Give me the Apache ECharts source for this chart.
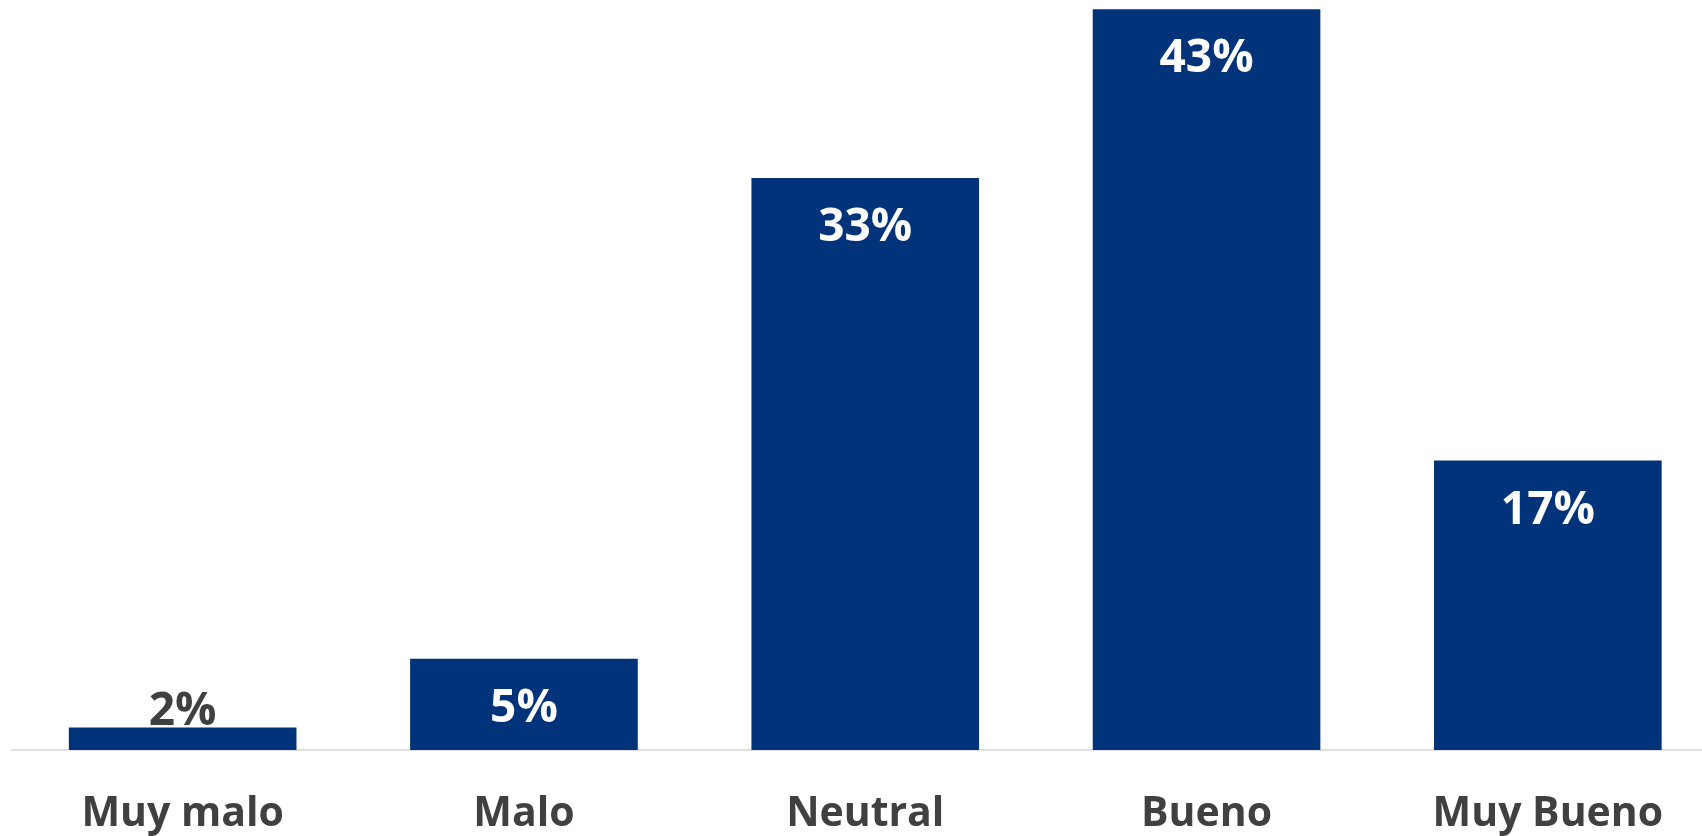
<!DOCTYPE html>
<html>
<head>
<meta charset="utf-8">
<script src="https://cdn.jsdelivr.net/npm/echarts@6/dist/echarts.min.js"></script>
<style>
html,body{margin:0;padding:0;background:#ffffff;}
#chart{width:1702px;height:836px;}
</style>
</head>
<body>
<div id="chart"></div>
<script>
// Data
var categories = ["Muy malo", "Malo", "Neutral", "Bueno", "Muy Bueno"];
var values = [1.3, 5.3, 33.2, 43.0, 16.8];          // bar heights (percent)
var valueLabels = ["2%", "5%", "33%", "43%", "17%"]; // labels as printed

var BAR_COLOR = "#00337A";
var FONT = "Open Sans";

var seriesData = values.map(function (v, i) {
  var item = { value: v };
  if (v < 3) {
    // bar too short: label sits just above it, in dark grey
    item.label = { position: "top", distance: -7, color: "#404040" };
  }
  return item;
});

var chart = echarts.init(document.getElementById("chart"), null, { renderer: "canvas" });
chart.setOption({
  backgroundColor: "#ffffff",
  animation: false,
  grid: {
    left: 12, top: 9.3, width: 1706.5, bottom: 86,
    containLabel: false,
    outerBoundsMode: "none"
  },
  xAxis: {
    type: "category",
    data: categories,
    axisLine: { show: true, lineStyle: { color: "#e0e0e0", width: 2 } },
    axisTick: { show: false },
    axisLabel: {
      color: "#404040",
      fontFamily: FONT,
      fontWeight: "bold",
      fontSize: 41,
      margin: 44,
      interval: 0
    }
  },
  yAxis: {
    type: "value",
    min: 0,
    max: 43,
    show: false,
    splitLine: { show: false }
  },
  series: [{
    type: "bar",
    data: seriesData,
    barCategoryGap: "33.3%",
    itemStyle: { color: BAR_COLOR },
    label: {
      show: true,
      position: "insideTop",
      distance: 27,
      color: "#ffffff",
      fontFamily: FONT,
      fontWeight: "bold",
      fontSize: 46,
      formatter: function (p) { return valueLabels[p.dataIndex]; }
    }
  }]
});
</script>
</body>
</html>
